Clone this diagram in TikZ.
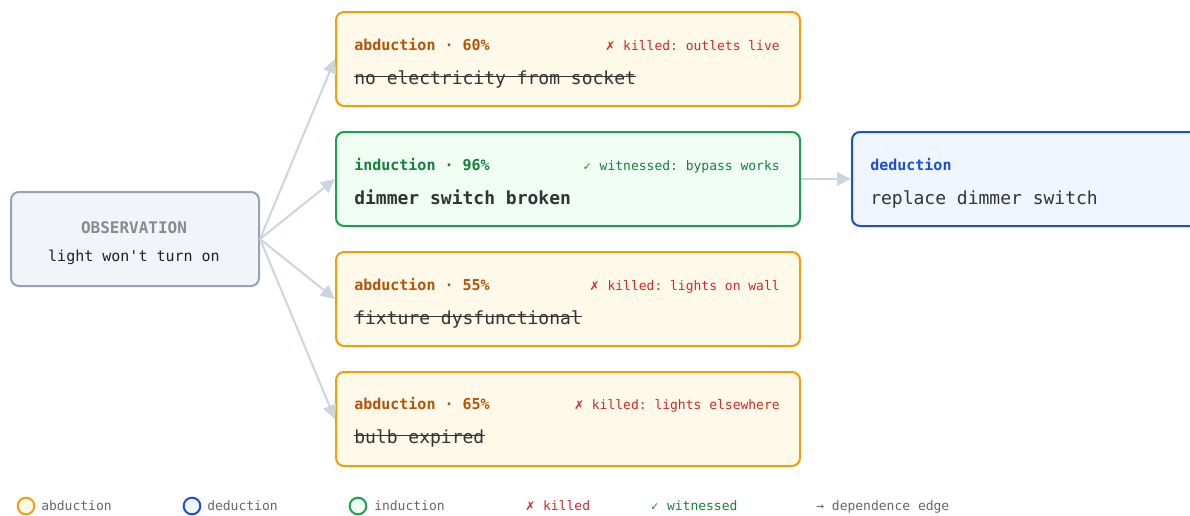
\documentclass[tikz,border=0pt]{standalone}
\usepackage{fontspec}
\setmainfont{DejaVu Sans Mono}[Ligatures=TeXOff]
\newfontfamily\glyphfont{DejaVu Sans}
\usetikzlibrary{arrows.meta}
\frenchspacing

\definecolor{abdline}{HTML}{F59E0B}
\definecolor{abdfill}{HTML}{FEF9E8}
\definecolor{abdtext}{HTML}{B45309}
\definecolor{indline}{HTML}{16A34A}
\definecolor{indfill}{HTML}{F0FDF4}
\definecolor{indtext}{HTML}{15803D}
\definecolor{dedline}{HTML}{1D4ED8}
\definecolor{dedfill}{HTML}{EFF6FF}
\definecolor{dedtext}{HTML}{1D4ED8}
\definecolor{obsline}{HTML}{94A3B8}
\definecolor{obsfill}{HTML}{F1F5F9}
\definecolor{obstext}{HTML}{8A8A8A}
\definecolor{killred}{HTML}{DC2626}
\definecolor{ink}{HTML}{333333}
\definecolor{legendtext}{HTML}{666666}
\definecolor{edgecol}{HTML}{CBD5E1}

\begin{document}
\begin{tikzpicture}[x=0.75pt,y=-0.75pt,
  card/.style={draw, rounded corners=6pt, line width=1.5pt, minimum width=348pt,
    minimum height=70.5pt, inner sep=0pt, anchor=north west},
  abd/.style={card, draw=abdline, fill=abdfill},
  ind/.style={card, draw=indline, fill=indfill},
  ded/.style={card, draw=dedline, fill=dedfill, minimum width=280pt},
  obs/.style={card, draw=obsline, fill=obsfill, minimum width=186pt},
  title/.style={font=\bfseries\fontsize{11.25}{13}\selectfont, anchor=base west, inner sep=0pt},
  verdict/.style={font=\fontsize{9.75}{12}\selectfont, anchor=base east, inner sep=0pt},
  claim/.style={font=\fontsize{13.5}{16}\selectfont, anchor=base west, inner sep=0pt, text=ink},
  strike/.style={draw=ink, line width=0.9pt},
  edge/.style={draw=edgecol, line width=1.5pt, -{Triangle[length=10.5pt,width=10pt]}},
  key/.style={circle, line width=1.5pt, minimum size=12.5pt, inner sep=0pt},
  keytext/.style={font=\fontsize{9.75}{12}\selectfont, anchor=base west, inner sep=0pt}
]
\useasboundingbox (0,0) rectangle (1190,515);
\clip (0,0) rectangle (1190,515);

% observation
\node[obs] (obs) at (10,191) {};
\node[font=\bfseries\fontsize{12}{14}\selectfont, text=obstext, anchor=base, inner sep=0pt] (obsT) at (134,233) {OBSERVATION};
\node[font=\fontsize{11.25}{13}\selectfont, text=black!87, anchor=base, inner sep=0pt] (obsC) at (134,261) {light won't turn on};

% hypothesis cards
\node[abd] (h1) at (335,11) {};
\node[ind] (h2) at (335,131) {};
\node[abd] (h3) at (335,251) {};
\node[abd] (h4) at (335,371) {};
\node[ded] (d1) at (851,131) {};

% card texts
\node[title, text=abdtext] (h1t) at (354,50) {abduction · 60\%};
\node[verdict, text=killred] (h1v) at (780,50) {{\glyphfont\fontsize{9}{11}\selectfont ✗} killed: outlets live};
\node[claim] (h1c) at (354,84) {no electricity from socket};

\node[title, text=indtext] (h2t) at (354,170) {induction · 96\%};
\node[verdict, text=indtext] (h2v) at (780,170) {{\glyphfont\fontsize{8}{10}\selectfont ✓} witnessed: bypass works};
\node[claim, font=\bfseries\fontsize{13.5}{16}\selectfont] (h2c) at (354,204) {dimmer switch broken};

\node[title, text=abdtext] (h3t) at (354,290) {abduction · 55\%};
\node[verdict, text=killred] (h3v) at (780,290) {{\glyphfont\fontsize{9}{11}\selectfont ✗} killed: lights on wall};
\node[claim] (h3c) at (354,324) {fixture dysfunctional};

\node[title, text=abdtext] (h4t) at (354,409) {abduction · 65\%};
\node[verdict, text=killred] (h4v) at (780,409) {{\glyphfont\fontsize{9}{11}\selectfont ✗} killed: lights elsewhere};
\node[claim] (h4c) at (354,443) {bulb expired};

\node[title, text=dedtext] (d1t) at (870,170) {deduction};
\node[claim] (d1c) at (870,204) {replace dimmer switch};

% struck-out claims
\foreach \c in {h1c,h3c,h4c}
  \draw[strike] ([yshift=5.5pt]\c.base west) -- ([yshift=5.5pt]\c.base east);

% dependence edges
\draw[edge] (obs.east) -- (h1.west);
\draw[edge] (obs.east) -- (h2.west);
\draw[edge] (obs.east) -- (h3.west);
\draw[edge] (obs.east) -- (h4.west);
\draw[edge] (h2.east) -- (d1.west);

% legend
\node[key, draw=abdline, fill=abdfill] (k1) at (26,506) {};
\node[keytext, text=legendtext] (k1t) at (41,510.5) {abduction};
\node[key, draw=dedline, fill=dedfill] (k2) at (192,506) {};
\node[keytext, text=legendtext] (k2t) at (207,510.5) {deduction};
\node[key, draw=indline, fill=indfill] (k3) at (358,506) {};
\node[keytext, text=legendtext] (k3t) at (374,510.5) {induction};
\node[keytext, text=killred] (k4t) at (525,510.5) {{\glyphfont\fontsize{9}{11}\selectfont ✗} killed};
\node[keytext, text=indtext] (k5t) at (650,510.5) {{\glyphfont\fontsize{8}{10}\selectfont ✓} witnessed};
\node[keytext, text=legendtext] (k6t) at (816,510.5) {→ dependence edge};
\end{tikzpicture}
\end{document}
